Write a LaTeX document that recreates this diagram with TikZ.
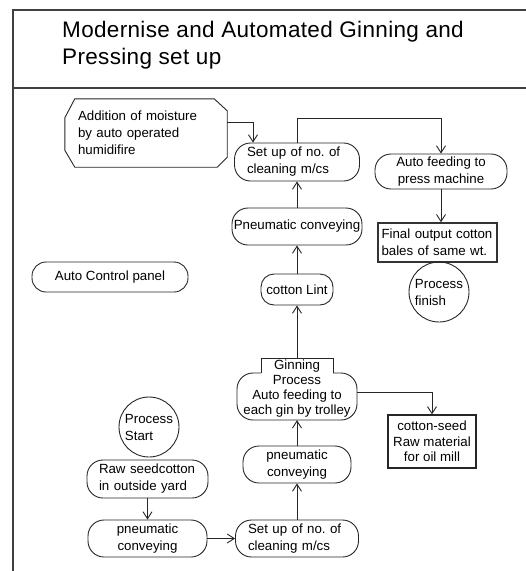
\documentclass[tikz,border=0pt]{standalone}
\usepackage{fontspec}
\setmainfont{Liberation Sans}
\newfontfamily\titlefont[LetterSpace=1.5]{Liberation Sans}
\usetikzlibrary{arrows.meta}
\begin{document}
\frenchspacing
\begin{tikzpicture}[x=1pt,y=-1pt,
  every node/.style={font=\fontsize{13.3}{17}\selectfont, inner sep=0pt, text=black},
  box/.style={draw=black!85, line width=0.9pt},
  capsule/.style={box, rounded corners=16pt},
  arr/.style={draw=black!85, line width=0.9pt, -{Straight Barb[length=7pt,width=9pt]}},
  frame/.style={draw=black!75, line width=1.4pt}]
\useasboundingbox (0,0) rectangle (526,571);

% frame
\draw[frame] (526,10) -- (13,10) -- (13,571);
\draw[frame] (13,88) -- (526,88);

% title
\node[anchor=north west, align=left, font=\titlefont\fontsize{22.5}{27}\selectfont] (title) at (62,21)
  {Modernise and Automated Ginning and\\Pressing set up};

% humidifier (chamfered)
\node[minimum width=162pt, minimum height=68pt, text width=136pt, align=left] (add) at (146,133)
  {Addition of moisture\\by auto operated\\humidifire};
\draw[box] ([xshift=10pt]add.north west) -- ([xshift=-13pt]add.north east)
  -- ([yshift=-12pt]add.north east) -- ([yshift=10pt]add.south east)
  -- ([xshift=-10pt]add.south east) -- ([xshift=10pt]add.south west)
  -- ([yshift=17pt]add.south west) -- ([yshift=-19pt]add.north west) -- cycle;

% central column
\node[capsule, minimum width=125pt, minimum height=38pt, text width=100pt, align=left] (setup1) at (297,162)
  {Set up of no.\ of\\cleaning m/cs};
\node[capsule, minimum width=130pt, minimum height=37pt] (pneu1) at (297,226.5) {Pneumatic conveying};
\node[capsule, rounded corners=13pt, minimum width=72pt, minimum height=31pt] (lint) at (297,289.5) {cotton Lint};

\node[minimum width=120pt, minimum height=62pt, align=center, font=\fontsize{13.3}{15}\selectfont] (gin) at (297,389)
  {Ginning\\Process\\Auto feeding to\\each gin by trolley};
\draw[box] (261,373) -- (261,358) -- (333,358) -- (333,373);
\draw[box, rounded corners=16pt] (261,373) -- (237,373) -- (237,420) -- (357,420) -- (357,373) -- (333,373);

\node[capsule, minimum width=108pt, minimum height=37pt, align=center] (pneu2) at (297,464.5) {pneumatic\\conveying};
\node[capsule, minimum width=123pt, minimum height=37pt, text width=98pt, align=left] (setup2) at (297,538.5)
  {Set up of no.\ of\\cleaning m/cs};

% right column
\node[capsule, minimum width=132pt, minimum height=35pt, align=center] (autofeed) at (441,171.5)
  {Auto feeding to\\press machine};
\node[draw=black!80, line width=1.5pt, minimum width=119pt, minimum height=39pt, text width=112pt, align=left] (final) at (437.5,242.5)
  {Final output cotton\\bales of same wt.};
\node[box, circle, minimum size=60pt, align=left] (finish) at (439,292) {Process\\finish};
\node[draw=black!85, line width=1.2pt, minimum width=88pt, minimum height=53pt, align=center, font=\fontsize{13.3}{15.5}\selectfont] (seed) at (432,441.5)
  {cotton-seed\\Raw material\\for oil mill};

% left column
\node[capsule, rounded corners=14pt, minimum width=156pt, minimum height=30pt] (acp) at (110,277) {Auto Control panel};
\node[box, circle, minimum size=60pt, align=left] (start) at (149,427) {Process\\Start};
\node[capsule, minimum width=121pt, minimum height=38pt, text width=97pt, align=left] (raw) at (147.5,479)
  {Raw seedcotton\\in outside yard};
\node[capsule, minimum width=119pt, minimum height=37pt, align=center] (pneu3) at (147.5,538.5)
  {pneumatic\\conveying};

% connectors
\draw[arr] ([yshift=11pt]add.east) -| ([xshift=-44pt]setup1.north);
\draw[arr] (setup1.north) -- ++(0,-24) -| (autofeed.north);
\draw[arr] (autofeed.south) -- (autofeed.south |- final.north);
\draw[arr] (pneu1.north) -- (setup1.south);
\draw[arr] (lint.north) -- (pneu1.south);
\draw[arr] (gin.north) -- (lint.south);
\draw[arr] (357,392) -| (seed.north);
\draw[arr] (pneu2.north) -- (gin.south);
\draw[arr] (setup2.north) -- (pneu2.south);
\draw[arr] (raw.south) -- (pneu3.north);
\draw[arr] (pneu3.east) -- (setup2.west);
\end{tikzpicture}
\end{document}
